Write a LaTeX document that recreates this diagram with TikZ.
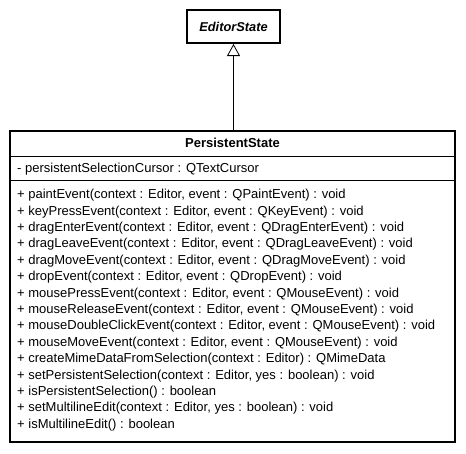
\documentclass[tikz,border=0pt]{standalone}
\usepackage{fontspec}
\setmainfont{Liberation Sans}
\usetikzlibrary{arrows.meta}
\begin{document}
\begin{tikzpicture}[x=1pt,y=-1pt,
  umlbox/.style={draw, line width=2pt, inner sep=0pt, fill=white},
  sepline/.style={line width=1pt},
  member/.style={anchor=mid west, inner sep=0pt, font=\fontsize{13}{15}\selectfont},
  inherit/.style={line width=0.8pt, -{Triangle[open, width=13pt, length=12pt, line width=0.8pt]}}]
\useasboundingbox (0,0) rectangle (466,453);
\node[umlbox, minimum width=93pt, minimum height=33pt, font=\fontsize{12.8}{15}\selectfont\bfseries\itshape] (parent) at (233.5,26.5) {EditorState};
\node[umlbox, minimum width=445pt, minimum height=311pt] (cls) at (232.5,286.5) {};
\node[font=\fontsize{13}{15}\selectfont\bfseries, inner sep=0pt, anchor=mid] (title) at (232.5,145) {PersistentState};
\coordinate (s1) at (0,156);
\coordinate (s2) at (0,180.5);
\draw[sepline] (cls.west |- s1) -- (cls.east |- s1);
\draw[sepline] (cls.west |- s2) -- (cls.east |- s2);
\node[member] (attr) at (17,170) {- persistentSelectionCursor : QTextCursor};
\foreach \t [count=\i] in {
 {+ paintEvent(context : Editor, event : QPaintEvent) : void},
 {+ keyPressEvent(context : Editor, event : QKeyEvent) : void},
 {+ dragEnterEvent(context : Editor, event : QDragEnterEvent) : void},
 {+ dragLeaveEvent(context : Editor, event : QDragLeaveEvent) : void},
 {+ dragMoveEvent(context : Editor, event : QDragMoveEvent) : void},
 {+ dropEvent(context : Editor, event : QDropEvent) : void},
 {+ mousePressEvent(context : Editor, event : QMouseEvent) : void},
 {+ mouseReleaseEvent(context : Editor, event : QMouseEvent) : void},
 {+ mouseDoubleClickEvent(context : Editor, event : QMouseEvent) : void},
 {+ mouseMoveEvent(context : Editor, event : QMouseEvent) : void},
 {+ createMimeDataFromSelection(context : Editor) : QMimeData},
 {+ setPersistentSelection(context : Editor, yes : boolean) : void},
 {+ isPersistentSelection() : boolean},
 {+ setMultilineEdit(context : Editor, yes : boolean) : void},
 {+ isMultilineEdit() : boolean}}
  \node[member] (m\i) at (17,{196+16.4*(\i-1)}) {\t};
\draw[inherit] (cls.north -| parent.south) -- (parent.south);
\end{tikzpicture}
\end{document}
